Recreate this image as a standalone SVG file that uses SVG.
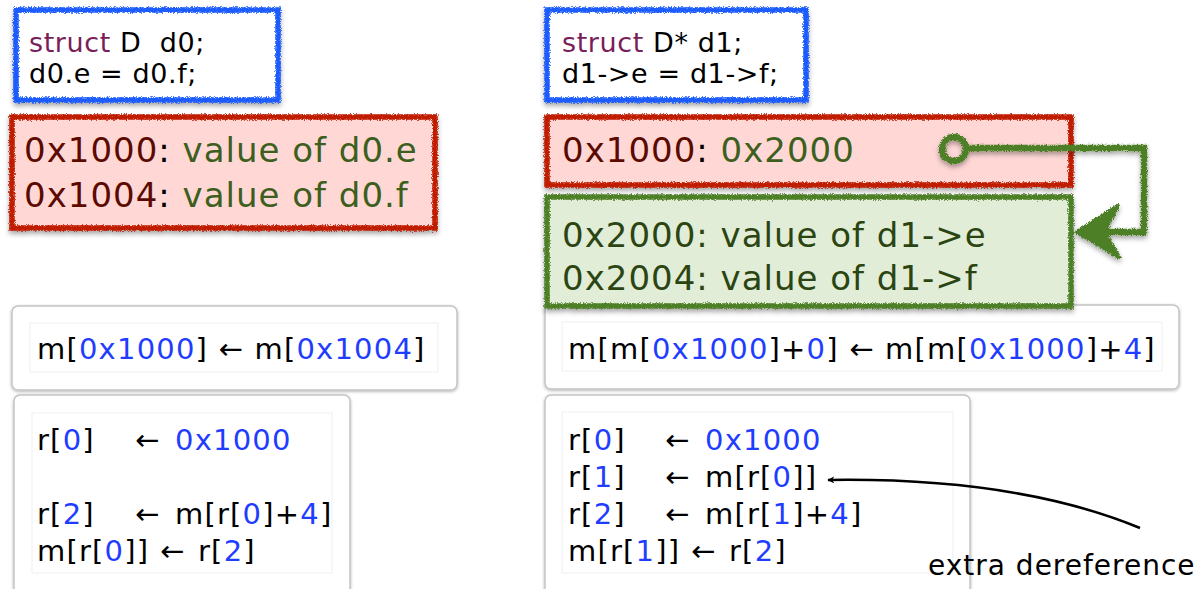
<svg xmlns="http://www.w3.org/2000/svg" width="1203" height="589" viewBox="0 0 1203 589">
<defs>
<style>
text{font-family:"DejaVu Sans","Liberation Sans",sans-serif;white-space:pre}
.code{font-size:27px;letter-spacing:0.6px;fill:#000}
.kw{fill:#7a1e5a}
.mem{font-size:34px;letter-spacing:1px}
.addr{fill:#5c0a00}
.val{fill:#3d5f1d}
.gval{fill:#2b4512}
.asm{font-size:29px;letter-spacing:1.2px;fill:#000}
.b{fill:#1f3dff}
.gray{fill:#fff;stroke:#c4c4c4;stroke-width:1.5}
.inner{fill:#fff;stroke:#efefef;stroke-width:1}
.blue{fill:#fff;stroke:#1a5cff;stroke-width:5.5}
.red{fill:#ffd8d6;stroke:#c01a00;stroke-width:5.5}
.green{fill:#e2edd7;stroke:#4e7f26;stroke-width:5.5}
</style>
<filter id="chalk" x="-5%" y="-15%" width="110%" height="135%">
<feTurbulence type="fractalNoise" baseFrequency="1.2" numOctaves="2" seed="5" result="n"/>
<feDisplacementMap in="SourceGraphic" in2="n" scale="4.5" xChannelSelector="R" yChannelSelector="G" result="d"/>
<feDropShadow in="d" dx="0" dy="3" stdDeviation="2.5" flood-color="#000" flood-opacity="0.35"/>
</filter>
<filter id="shadow" x="-5%" y="-10%" width="110%" height="130%">
<feDropShadow dx="0" dy="1" stdDeviation="1.5" flood-color="#000" flood-opacity="0.3"/>
</filter>
<marker id="ah" viewBox="0 0 10 10" refX="9" refY="5" markerWidth="7" markerHeight="7" orient="auto-start-reverse" markerUnits="userSpaceOnUse">
<path d="M0,0 L10,5 L0,10 L3,5 Z" fill="#000"/>
</marker>
</defs>

<g id="asm-left">
<rect class="gray" x="12" y="306" width="445" height="84" rx="6" filter="url(#shadow)"/>
<rect class="inner" x="30" y="323" width="408" height="49"/>
<text class="asm" x="37" y="359">m[<tspan class="b">0x1000</tspan>] ← m[<tspan class="b">0x1004</tspan>]</text>
</g>

<g id="asm-right">
<rect class="gray" x="545" y="305" width="634" height="84" rx="6" filter="url(#shadow)"/>
<rect class="inner" x="562" y="322" width="600" height="49"/>
<text class="asm" x="568" y="359">m[m[<tspan class="b">0x1000</tspan>]+<tspan class="b">0</tspan>] ← m[m[<tspan class="b">0x1000</tspan>]+<tspan class="b">4</tspan>]</text>
</g>

<g id="regs-left">
<rect class="gray" x="14" y="395" width="336" height="210" rx="6" filter="url(#shadow)"/>
<rect class="inner" x="32" y="413" width="300" height="160"/>
<text class="asm" x="37" y="450">r[<tspan class="b">0</tspan>]<tspan x="135">←</tspan><tspan x="175" class="b">0x1000</tspan></text>
<text class="asm" x="37" y="524">r[<tspan class="b">2</tspan>]<tspan x="135">←</tspan><tspan x="175">m[r[</tspan><tspan class="b">0</tspan>]+<tspan class="b">4</tspan>]</text>
<text class="asm" x="37" y="561">m[r[<tspan class="b">0</tspan>]]<tspan x="160">←</tspan><tspan x="198">r[</tspan><tspan class="b">2</tspan>]</text>
</g>

<g id="regs-right">
<rect class="gray" x="545" y="395" width="425" height="210" rx="6" filter="url(#shadow)"/>
<rect class="inner" x="562" y="412" width="391" height="161"/>
<text class="asm" x="568" y="450">r[<tspan class="b">0</tspan>]<tspan x="665">←</tspan><tspan x="705" class="b">0x1000</tspan></text>
<text class="asm" x="568" y="487">r[<tspan class="b">1</tspan>]<tspan x="665">←</tspan><tspan x="705">m[r[</tspan><tspan class="b">0</tspan>]]</text>
<text class="asm" x="568" y="524">r[<tspan class="b">2</tspan>]<tspan x="665">←</tspan><tspan x="705">m[r[</tspan><tspan class="b">1</tspan>]+<tspan class="b">4</tspan>]</text>
<text class="asm" x="568" y="561">m[r[<tspan class="b">1</tspan>]]<tspan x="691">←</tspan><tspan x="729">r[</tspan><tspan class="b">2</tspan>]</text>
</g>

<g id="src-left">
<rect class="blue" x="16" y="10" width="262" height="90" filter="url(#chalk)"/>
<text class="code" x="29" y="52"><tspan class="kw">struct</tspan> D  d0;</text>
<text class="code" x="29" y="83">d0.e = d0.f;</text>
</g>

<g id="src-right">
<rect class="blue" x="547" y="10" width="259" height="90" filter="url(#chalk)"/>
<text class="code" x="562" y="52"><tspan class="kw">struct</tspan> D* d1;</text>
<text class="code" x="562" y="83">d1-&gt;e = d1-&gt;f;</text>
</g>

<g id="mem-left">
<rect class="red" x="12" y="117" width="423" height="111" filter="url(#chalk)"/>
<text class="mem" x="24" y="162"><tspan class="addr">0x1000</tspan>: <tspan class="val">value of d0.e</tspan></text>
<text class="mem" x="24" y="207"><tspan class="addr">0x1004</tspan>: <tspan class="val">value of d0.f</tspan></text>
</g>

<g id="mem-right-ptr">
<rect class="red" x="547" y="117" width="524" height="68" filter="url(#chalk)"/>
<text class="mem" x="562" y="162"><tspan class="addr">0x1000</tspan>: <tspan class="val">0x2000</tspan></text>
</g>

<g id="mem-right-obj">
<rect class="green" x="547" y="197" width="524" height="109" filter="url(#chalk)"/>
<text class="mem gval" x="562" y="247">0x2000: value of d1-&gt;e</text>
<text class="mem gval" x="562" y="290">0x2004: value of d1-&gt;f</text>
</g>

<g id="note">
<text class="asm" x="928" y="575" style="font-size:28px;letter-spacing:1px">extra dereference</text>
</g>

<g id="connectors">
<g filter="url(#chalk)">
<circle cx="954" cy="149" r="12" fill="none" stroke="#4e7f26" stroke-width="6.5"/>
<path d="M967,148 L1144,148 L1144,232 L1100,232" fill="none" stroke="#4e7f26" stroke-width="6.5"/>
<path d="M1077,232 L1118,206 L1104,232 L1119,257 Z" fill="#4e7f26" stroke="#4e7f26" stroke-width="4" stroke-linejoin="round"/>
</g>
<path d="M1140,528 C1060,495 960,478 828,480" fill="none" stroke="#000" stroke-width="2.5" marker-end="url(#ah)"/>
</g>
</svg>
